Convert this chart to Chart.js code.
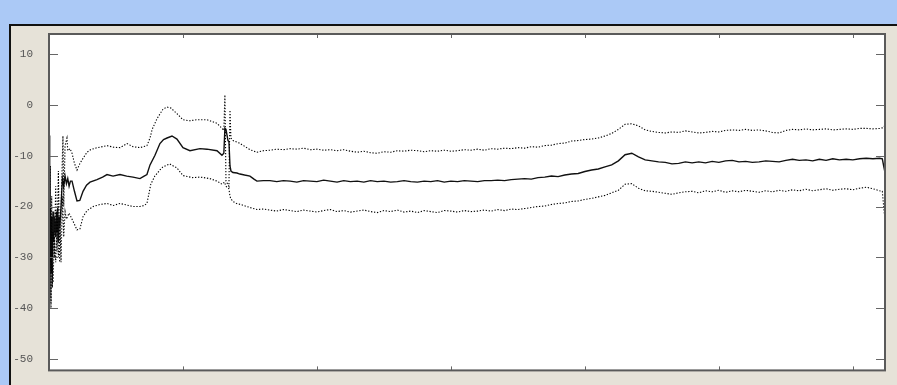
<!DOCTYPE html>
<html>
<head>
<meta charset="utf-8">
<script src="https://cdn.jsdelivr.net/npm/chart.js@4"></script>
<style>
  html, body { margin: 0; padding: 0; }
  body { width: 897px; height: 385px; background: #abc9f6; position: relative; overflow: hidden; }
  #frame { position: absolute; left: 9px; top: 24px; right: 0; bottom: 0;
           background: #e6e2d8; border-top: 2px solid #111; border-left: 2px solid #111; }
  #chart1 { position: absolute; left: 0; top: 0; }
</style>
</head>
<body>
<div id="frame"></div>
<canvas id="chart1" width="897" height="385"></canvas>
<script>
// axis ticks
var yTicks = [-50, -40, -30, -20, -10, 0, 10];
var xTicks = [100, 200, 300, 400, 500, 600];

// early part of each trace (uneven spacing)
var midEarlyX = [0,0.5,1,1.5,2,2.5,3,3.5,4,5,5.5,6,6.5,7,7.5,8,9,10,11,12,13,14,15,16,17.2,19,20.9,23,25.4,28,30.6,35.8,40,43.3,47.8,53,58,62.7,67.9,71,73.1,75.4,79.1,82.8,85.5,88.1,91.8,95.5,100,105.2,112.7,117.9,125.4,129.1,130.5,131.3,132.1,133.6,134.3,135.1,135.8,137.3,140.3,142.5,146,150,153,155.2,160];
var midEarlyY = [-6,-31,-20,-33,-22,-30,-21,-27,-22,-26,-21,-25,-20,-27,-22,-24,-20,-14.5,-16,-14,-15.5,-14.5,-16,-15,-15,-17,-18.9,-18.8,-17,-15.8,-15.2,-14.7,-14.2,-13.7,-14,-13.7,-14,-14.2,-14.5,-14,-13.7,-11.8,-9.9,-7.6,-6.8,-6.5,-6.1,-6.7,-8.4,-9,-8.6,-8.7,-9,-9.9,-9.5,-4.6,-4.8,-7,-7.2,-12,-13,-13.3,-13.4,-13.6,-13.8,-14,-14.6,-15,-14.9];

var upEarlyX = [0,0.5,1,1.5,2,2.5,3,4,5,6,7,8,9,10.4,11,12,13.4,14,15.7,17.2,19,20.9,23.1,25.4,28.4,31,35.8,40,43.3,48,53,58.2,62.7,67.9,73.1,75.4,77,80.6,85.1,88.1,91,95.5,100,105,110,117.9,125.4,129.1,130.5,131.3,132.1,134.3,135.1,135.8,137.3,142,147,150,155.2,160];
var upEarlyY = [-4,-38,-12,-40,-18,-36,-25,-30,-16,-29,-13,-31,-20,-6.1,-20,-8,-6.5,-9,-8.6,-9.5,-11.5,-12.8,-11.5,-10.5,-9.3,-8.8,-8.4,-8.2,-8,-8.3,-8.4,-7.6,-8.2,-8.4,-8,-6.5,-4.8,-2.7,-0.8,-0.4,-0.6,-1.7,-2.9,-3.1,-2.9,-2.9,-3.6,-4.6,-5,2,-15,-16,-1,-6.5,-7,-7.5,-8.3,-8.8,-9.3,-9];

var lowEarlyX = [0,0.5,1,1.5,2,3,4,5,6,7,8,9,10,11,12,13,15,17.2,19,20.9,23.1,25.4,28.4,33,38,43.3,48,53,58,62.7,67.9,71,73.1,76,79,82.8,85,90,95.5,100,107,113,120,125.4,129.1,131,132,134.3,135.1,135.8,137.3,140,143,150,155.2,160];
var lowEarlyY = [-8,-40,-25,-39,-28,-35,-26,-31,-24,-30,-22,-31,-18,-26,-21,-22.5,-21.3,-22.5,-23.5,-24.6,-24.4,-22,-20.8,-20,-19.6,-19.4,-19.8,-19.4,-19.7,-20,-20,-19.8,-19.4,-15.6,-14,-12.8,-12.2,-11.6,-12.4,-13.9,-14.3,-14.2,-14.5,-15,-15.6,-15.2,-16,-16.5,-18,-18.5,-19,-19.4,-19.6,-20.2,-20.6,-20.5];

// rest of the traces, shared x positions
var tailX = [165,170,175,180,185,190,195,200,205,210,215,220,225,230,235,240,245,250,255,260,265,270,275,280,285,290,295,300,305,310,315,320,325,330,335,340,345,350,355,360,365,370,375,380,385,390,395,400,405,410,415,420,425,430,435,440,445,450,455,460,465,470,475,480,485,490,495,500,505,510,515,520,525,530,535,540,545,550,555,560,565,570,575,580,585,590,595,600,605,610,615,620,622,623,624];
var midTail = [-14.9,-15.1,-14.9,-15.0,-15.2,-14.9,-15.0,-15.1,-14.8,-15.0,
  -15.2,-14.9,-15.1,-15.0,-15.2,-14.9,-15.1,-15.0,-15.2,-15.1,
  -14.9,-15.1,-15.2,-15.0,-15.1,-14.9,-15.2,-15.0,-15.1,-14.9,
  -15.0,-15.1,-14.9,-14.9,-14.8,-14.9,-14.7,-14.6,-14.5,-14.6,
  -14.3,-14.2,-14.0,-14.1,-13.8,-13.6,-13.5,-13.1,-12.8,-12.6,
  -12.2,-11.8,-11.0,-9.8,-9.5,-10.2,-10.8,-11.0,-11.2,-11.3,
  -11.6,-11.5,-11.2,-11.4,-11.2,-11.4,-11.1,-11.3,-11.0,-10.9,
  -11.2,-11.1,-11.3,-11.2,-11.0,-11.1,-11.2,-10.9,-10.7,-10.9,
  -10.8,-11.0,-10.7,-10.9,-10.6,-10.8,-10.7,-10.8,-10.6,-10.5,
  -10.6,-10.5,-10.6,-12,-13.3];
var upTail = [-8.9,-8.7,-8.8,-8.6,-8.7,-8.5,-8.8,-8.7,-8.9,-8.8,
  -9.0,-8.8,-9.1,-9.3,-9.1,-9.4,-9.5,-9.2,-9.3,-9.0,
  -9.1,-8.9,-9.0,-9.2,-9.0,-9.1,-8.9,-9.1,-9.0,-8.8,
  -8.9,-8.7,-8.9,-8.6,-8.7,-8.5,-8.6,-8.4,-8.5,-8.2,
  -8.3,-8.0,-7.9,-7.6,-7.5,-7.1,-7.0,-6.8,-6.7,-6.5,
  -6.1,-5.6,-4.8,-3.8,-3.7,-4.1,-4.9,-5.2,-5.4,-5.5,
  -5.3,-5.4,-5.1,-5.3,-5.5,-5.4,-5.2,-5.3,-5.0,-4.9,
  -5.0,-4.8,-5.0,-4.9,-5.1,-5.4,-5.5,-5.0,-4.8,-4.9,
  -4.7,-4.9,-4.8,-4.7,-4.9,-4.8,-4.7,-4.8,-4.6,-4.6,
  -4.7,-4.6,-4.5,-4.3,-4.0];
var lowTail = [-20.7,-20.9,-20.6,-20.8,-21.0,-20.7,-20.9,-21.1,-20.8,-20.6,
  -21.0,-20.8,-21.1,-20.9,-20.7,-21.0,-21.2,-20.8,-21.0,-20.7,
  -21.1,-20.9,-21.2,-20.8,-21.0,-21.2,-20.8,-20.9,-21.1,-20.8,
  -21.0,-20.9,-20.7,-20.9,-20.6,-20.8,-20.5,-20.6,-20.4,-20.2,
  -20.0,-19.9,-19.6,-19.4,-19.3,-19.0,-18.9,-18.6,-18.4,-18.1,
  -17.8,-17.3,-16.8,-15.6,-15.5,-16.4,-16.9,-17.0,-17.2,-17.4,
  -17.6,-17.3,-17.1,-17.0,-17.3,-16.9,-17.1,-16.8,-17.2,-16.9,
  -17.1,-16.8,-17.0,-17.2,-16.9,-17.1,-16.8,-17.0,-16.7,-16.9,
  -16.6,-16.9,-16.7,-16.5,-16.8,-16.6,-16.5,-16.7,-16.4,-16.2,
  -16.5,-16.9,-17.0,-20,-22.7];

function toPoints(xs, ys) {
    var pts = [];
    for (var i = 0; i < xs.length && i < ys.length; i++) {
        pts.push({ x: xs[i], y: ys[i] });
    }
    return pts;
}

// white plot area, inward tick marks and the box
var framePlugin = {
    id: 'framePlugin',
    beforeDraw: function(chart) {
        var ctx = chart.ctx, a = chart.chartArea;
        ctx.save();
        ctx.fillStyle = '#ffffff';
        ctx.fillRect(a.left, a.top, a.right - a.left, a.bottom - a.top);
        ctx.restore();
    },
    afterDraw: function(chart) {
        var ctx = chart.ctx, a = chart.chartArea;
        var sx = chart.scales.x, sy = chart.scales.y;
        ctx.save();
        ctx.strokeStyle = '#666';
        ctx.lineWidth = 1;
        ctx.beginPath();
        yTicks.forEach(function(v) {
            var py = Math.round(sy.getPixelForValue(v)) + 0.5;
            ctx.moveTo(a.left, py); ctx.lineTo(a.left + 9, py);
            ctx.moveTo(a.right - 9, py); ctx.lineTo(a.right, py);
        });
        xTicks.forEach(function(v) {
            var px = Math.round(sx.getPixelForValue(v)) + 0.5;
            ctx.moveTo(px, a.top); ctx.lineTo(px, a.top + 4);
            ctx.moveTo(px, a.bottom); ctx.lineTo(px, a.bottom - 4);
        });
        ctx.stroke();
        ctx.strokeStyle = '#5a5a5a';
        ctx.lineWidth = 2;
        ctx.strokeRect(a.left, a.top, a.right - a.left, a.bottom - a.top);
        ctx.restore();
    }
};

var ctx1 = document.getElementById('chart1').getContext('2d');
var chart1 = new Chart(ctx1, {
    type: 'line',
    data: {
        datasets: [{
            label: 'upper',
            data: toPoints(upEarlyX.concat(tailX), upEarlyY.concat(upTail)),
            borderColor: '#000',
            borderWidth: 1.1,
            borderDash: [1.3, 1.7],
            pointRadius: 0,
            tension: 0
        }, {
            label: 'mean',
            data: toPoints(midEarlyX.concat(tailX), midEarlyY.concat(midTail)),
            borderColor: '#111',
            borderWidth: 1.4,
            pointRadius: 0,
            tension: 0
        }, {
            label: 'lower',
            data: toPoints(lowEarlyX.concat(tailX), lowEarlyY.concat(lowTail)),
            borderColor: '#000',
            borderWidth: 1.1,
            borderDash: [1.3, 1.7],
            pointRadius: 0,
            tension: 0
        }]
    },
    options: {
        responsive: false,
        animation: false,
        devicePixelRatio: 1,
        layout: { padding: { left: 0, top: 34, right: 12, bottom: 3 } },
        plugins: {
            legend: { display: false },
            tooltip: { enabled: false }
        },
        scales: {
            x: {
                type: 'linear',
                min: 0,
                max: 624,
                grid: { display: false },
                border: { display: false },
                ticks: { display: false },
                afterBuildTicks: function(scale) {
                    scale.ticks = xTicks.map(function(v) { return { value: v }; });
                },
                afterFit: function(scale) { scale.height = 0; }
            },
            y: {
                min: -52.3,
                max: 14,
                grid: { display: false },
                border: { display: false },
                ticks: {
                    color: '#555',
                    padding: 8,
                    font: { family: 'Liberation Mono', size: 11 }
                },
                afterBuildTicks: function(scale) {
                    scale.ticks = yTicks.map(function(v) { return { value: v }; });
                },
                afterFit: function(scale) { scale.width = 49; }
            }
        }
    },
    plugins: [framePlugin]
});
</script>
</body>
</html>
